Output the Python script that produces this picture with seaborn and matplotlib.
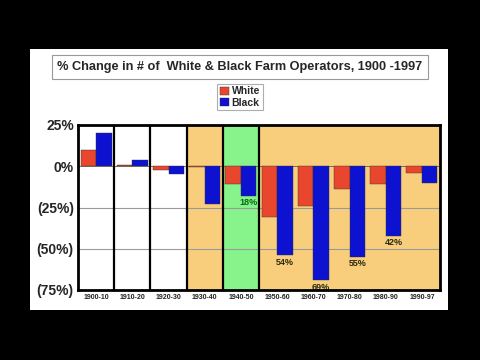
import numpy as np
import pandas as pd
import matplotlib.pyplot as plt
import seaborn as sns
from matplotlib.patches import Rectangle, Patch

decades = ["1900-10", "1910-20", "1920-30", "1930-40", "1940-50",
           "1950-60", "1960-70", "1970-80", "1980-90", "1990-97"]
white_pct = [10, 1, -2, -0.5, -11, -31, -24, -14, -11, -4]
black_pct = [20, 4, -4.5, -23, -18, -54, -69, -55, -42, -10]
shown_labels = {4: "18%", 5: "54%", 6: "69%", 7: "55%", 8: "42%"}
col_bg = ["white", "white", "white", "#F8CE7C", "#86F48A",
          "#F8CE7C", "#F8CE7C", "#F8CE7C", "#F8CE7C", "#F8CE7C"]

df = pd.DataFrame({
    "decade": decades * 2,
    "pct": white_pct + black_pct,
    "race": ["White"] * len(decades) + ["Black"] * len(decades),
})

sns.set_theme(style="white")
plt.rcParams['font.family'] = ['Liberation Sans', 'DejaVu Sans']

fig = plt.figure(figsize=(4.8, 3.6), dpi=100)
fig.patch.set_facecolor("black")
fig.patches.append(Rectangle((30 / 480, 1 - 310 / 360), 418 / 480, 261 / 360,
                             transform=fig.transFigure, facecolor="white",
                             edgecolor="none", zorder=-5))

ax = fig.add_axes([78 / 480, 1 - 290 / 360, 362 / 480, 165 / 360])
ax.set_facecolor("white")

for i, c in enumerate(col_bg):
    ax.axvspan(i - 0.5, i + 0.5, color=c, zorder=0, lw=0)

for y in [-25, -50]:
    ax.axhline(y, color="#9A9A9A", lw=0.8, zorder=0.5)
ax.axhline(0, color="#6A5A40", lw=0.6, zorder=0.5)

sns.barplot(data=df, x="decade", y="pct", hue="race", order=decades,
            hue_order=["White", "Black"], palette=["#E8472E", "#0C12CF"],
            saturation=1, width=0.86, gap=0, ax=ax, legend=False, zorder=2,
            edgecolor="#333333", linewidth=0.3)

for b in [0.5, 1.5, 2.5, 3.5, 4.5]:
    ax.axvline(b, color="black", lw=1.6, zorder=3)

for i, txt in shown_labels.items():
    clr = "#0A6A1A" if i == 4 else "#2A2A10"
    ax.text(i + 0.215, black_pct[i] - 1.5, txt, ha="center", va="top",
            fontsize=6.5, fontweight="bold", color=clr, zorder=4)

ax.set_xlim(-0.5, 9.5)
ax.set_ylim(-75, 25)
ax.set_yticks([25, 0, -25, -50, -75])
ax.set_yticklabels(["25%", "0%", "(25%)", "(50%)", "(75%)"],
                   fontsize=10, fontweight="bold")
ax.set_xticks(range(len(decades)))
ax.set_xticklabels(decades, fontsize=5, fontweight="bold", color="#222222")
ax.tick_params(axis="both", length=0, pad=3)
ax.tick_params(axis="y", pad=3)
ax.set_xlabel("")
ax.set_ylabel("")
for s in ax.spines.values():
    s.set_color("black")
    s.set_linewidth(2)
    s.set_zorder(5)

fig.text(240 / 480, 1 - 67 / 360,
         "% Change in # of  White & Black Farm Operators, 1900 -1997",
         ha="center", va="center", fontsize=9.2, fontweight="bold",
         bbox=dict(facecolor="white", edgecolor="#999999", lw=0.8,
                   boxstyle="square,pad=0.45"))

handles = [Patch(facecolor="#E8472E", edgecolor="#333333", lw=0.3, label="White"),
           Patch(facecolor="#0C12CF", edgecolor="#333333", lw=0.3, label="Black")]
leg = fig.legend(handles=handles, loc="center", bbox_to_anchor=(240 / 480, 1 - 97 / 360),
                 frameon=True, handlelength=0.9, handleheight=0.9,
                 handletextpad=0.2, borderpad=0.25, labelspacing=0.1,
                 fancybox=False, edgecolor="#999999", prop={"weight": "bold", "size": 7.5})
leg.get_frame().set_linewidth(0.8)

fig.savefig("out.png", dpi=100, facecolor="black")
